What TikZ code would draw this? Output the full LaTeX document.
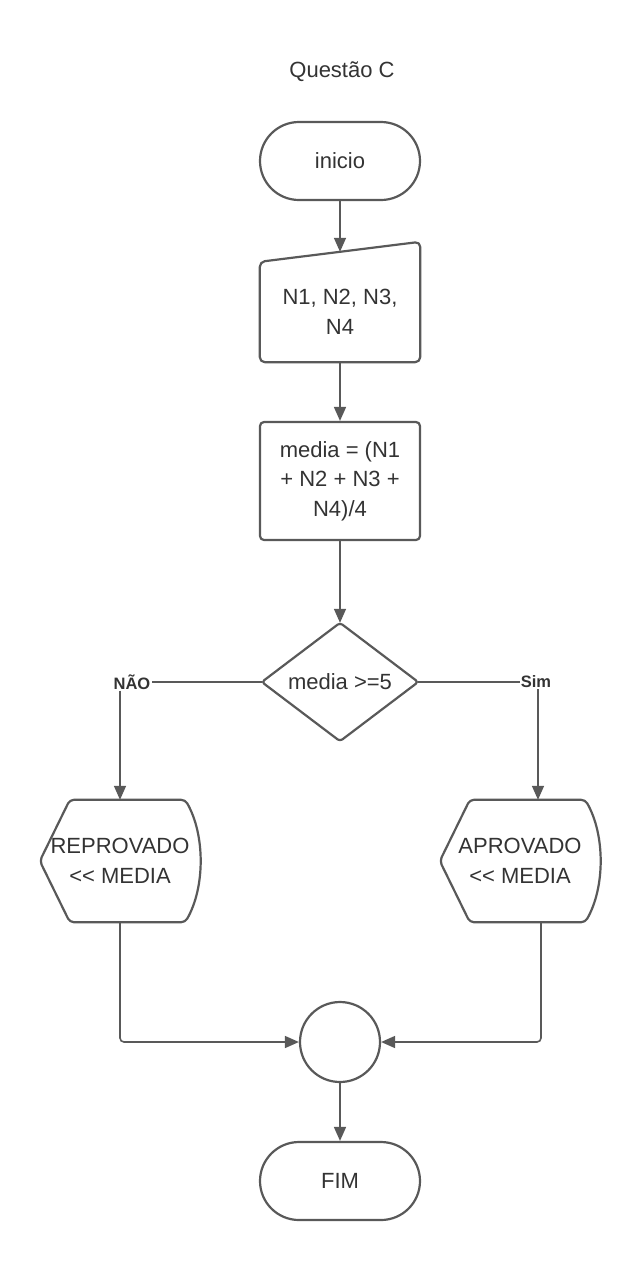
\documentclass[tikz,border=0pt]{standalone}
\usepackage{fontspec}
\setmainfont{Liberation Sans}
\usetikzlibrary{arrows.meta,calc}
\definecolor{lc}{HTML}{595959}
\definecolor{tc}{HTML}{333333}
\begin{document}
\begin{tikzpicture}[x=1pt,y=-1pt,
 box/.style={minimum width=160pt, inner sep=0pt, text=tc, font=\fontsize{22}{29.5}\selectfont, align=center},
 outl/.style={draw=lc, line width=2.2pt, line join=round},
 conn/.style={draw=lc, line width=1.6pt},
 arr/.style={conn, -{Triangle[length=14pt,width=12pt]}},
 lab/.style={text=tc, font=\bfseries\fontsize{16.5}{20}\selectfont, inner sep=1pt}]
\useasboundingbox (0,0) rectangle (640,1262);
\node[box] (title) at (342,72) {Questão C};
\node[box, minimum height=78pt, outl, rounded corners=39pt] (ini) at (340,161) {inicio};
\node[box, minimum height=100pt] (inp) at (340,312) {N1, N2, N3,\\N4};
\draw[outl, rounded corners=5pt] (inp.south west) -- (inp.north west) -- ([yshift=20pt]inp.north east) -- (inp.south east) -- cycle;
\coordinate (inptop) at ($(inp.north west)!0.5!([yshift=20pt]inp.north east)$);
\node[box, minimum height=118pt, outl, rounded corners=4pt] (proc) at (340,481) {media = (N1\\+ N2 + N3 +\\N4)/4};
\node[box, minimum width=156pt, minimum height=118pt] (dec) at (340,682) {media >=5};
\draw[outl, rounded corners=3pt] (dec.north) -- (dec.east) -- (dec.south) -- (dec.west) -- cycle;
\node[box, minimum height=122pt] (rep) at (120,861) {REPROVADO\\<\kern0pt< MEDIA};
\draw[outl, rounded corners=4pt] ([xshift=30pt]rep.north west) -- ([xshift=-15pt]rep.north east) .. controls ([xshift=5pt,yshift=-35pt]rep.north east) and ([xshift=5pt,yshift=35pt]rep.south east) .. ([xshift=-15pt]rep.south east) -- ([xshift=30pt]rep.south west) -- (rep.west) -- cycle;
\node[box, minimum height=122pt] (apr) at (520,861) {APROVADO\\<\kern0pt< MEDIA};
\draw[outl, rounded corners=4pt] ([xshift=30pt]apr.north west) -- ([xshift=-15pt]apr.north east) .. controls ([xshift=5pt,yshift=-35pt]apr.north east) and ([xshift=5pt,yshift=35pt]apr.south east) .. ([xshift=-15pt]apr.south east) -- ([xshift=30pt]apr.south west) -- (apr.west) -- cycle;
\node[circle, outl, minimum size=80pt, inner sep=0pt] (con) at (340,1042) {};
\node[box, minimum height=78pt, outl, rounded corners=39pt] (fim) at (340,1181) {FIM};
\node[lab] (nao) at (132,682) {NÃO};
\node[lab] (sim) at (536,682) {Sim};
\coordinate (lx) at (120,0);
\coordinate (rx) at (538,0);
\coordinate (rx2) at (541,0);
\draw[arr] (ini.south) -- (inptop);
\draw[arr] (inp.south) -- (proc.north);
\draw[arr] (proc.south) -- (dec.north);
\draw[conn] (dec.west) -- (nao.east);
\draw[conn] (dec.east) -- (sim.west);
\draw[arr] (nao.south -| lx) -- (rep.north -| lx);
\draw[arr] (sim.south -| rx) -- (apr.north -| rx);
\draw[arr, rounded corners=4pt] (rep.south -| lx) |- (con.west);
\draw[arr, rounded corners=4pt] (apr.south -| rx2) |- (con.east);
\draw[arr] (con.south) -- (fim.north);
\end{tikzpicture}
\end{document}
